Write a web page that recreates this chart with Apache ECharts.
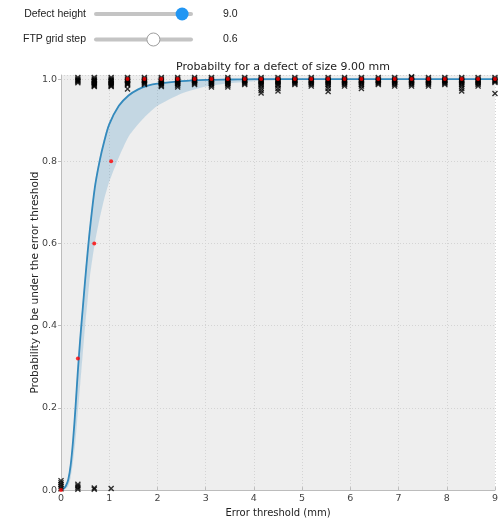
<!DOCTYPE html>
<html>
<head>
<meta charset="utf-8">
<script src="https://cdn.jsdelivr.net/npm/echarts@6/dist/echarts.min.js"></script>
<style>
  html, body { margin: 0; padding: 0; background: #fff; }
  #main { width: 501px; height: 523px; }
</style>
</head>
<body>
<div id="main"></div>
<script>
// slider widgets
const sliderLabels = ['Defect height', 'FTP grid step'];
const sliderValues = ['9.0', '0.6'];
const sliderPos = [0.89, 0.6];

// fitted curve
const curveX = [0, 0.05, 0.1, 0.15, 0.2, 0.25, 0.3, 0.35, 0.4, 0.45, 0.5, 0.55, 0.6, 0.7, 0.8, 0.9, 1.0, 1.2, 1.4, 1.6, 1.8, 2.0, 2.5, 3.0, 3.5, 4, 5, 6, 7, 8, 9];
const curveY = [0, 0.003, 0.01, 0.025, 0.06, 0.12, 0.2, 0.29, 0.37, 0.44, 0.51, 0.575, 0.635, 0.735, 0.80, 0.85, 0.89, 0.935, 0.96, 0.975, 0.984, 0.989, 0.995, 0.998, 0.999, 1, 1, 1, 1, 1, 1];
const lowerY = [0, 0.001, 0.003, 0.01, 0.03, 0.07, 0.12, 0.19, 0.26, 0.33, 0.4, 0.46, 0.52, 0.6, 0.66, 0.71, 0.75, 0.81, 0.86, 0.89, 0.915, 0.935, 0.965, 0.982, 0.99, 0.995, 0.999, 1, 1, 1, 1];
const upperY = [0, 0.004, 0.012, 0.03, 0.07, 0.13, 0.215, 0.305, 0.385, 0.455, 0.525, 0.59, 0.645, 0.745, 0.81, 0.858, 0.895, 0.938, 0.962, 0.976, 0.985, 0.99, 0.996, 0.998, 0.999, 1, 1, 1, 1, 1, 1];

// empirical probabilities (red dots)
const dotX = [0, 0.35, 0.69, 1.04, 1.38, 1.73, 2.08, 2.42, 2.77, 3.12, 3.46, 3.81, 4.15, 4.5, 4.85, 5.19, 5.54, 5.88, 6.23, 6.58, 6.92, 7.27, 7.62, 7.96, 8.31, 8.65, 9.0];
const dotY = [0, 0.32, 0.6, 0.8, 1, 1, 1, 1, 1, 1, 1, 1, 1, 1, 1, 1, 1, 1, 1, 1, 1, 1, 1, 1, 1, 1, 1];

// individual samples (black crosses), one list per column
const colX = [0.35, 0.69, 1.04, 1.38, 1.73, 2.08, 2.42, 2.77, 3.12, 3.46, 3.81, 4.15, 4.5, 4.85, 5.19, 5.54, 5.88, 6.23, 6.58, 6.92, 7.27, 7.62, 7.96, 8.31, 8.65, 9.0];
const colTop = [
  [1.004, 1, 0.998, 0.996, 0.994, 0.991],
  [1.004, 1, 0.998, 0.996, 0.994, 0.992, 0.99, 0.988, 0.986, 0.984, 0.982],
  [1.004, 1, 0.998, 0.996, 0.994, 0.992, 0.99, 0.988, 0.986, 0.984, 0.982],
  [1.004, 1, 0.998, 0.996, 0.994, 0.992, 0.99, 0.988, 0.986, 0.976],
  [1.004, 1, 0.998, 0.996, 0.994, 0.992, 0.99, 0.987],
  [1.004, 1, 0.998, 0.996, 0.994, 0.992, 0.99, 0.988, 0.985, 0.982],
  [1.004, 1, 0.998, 0.996, 0.994, 0.992, 0.99, 0.988, 0.985, 0.981],
  [1.004, 1, 0.998, 0.996, 0.994, 0.992, 0.99, 0.987],
  [1.004, 1, 0.998, 0.996, 0.994, 0.992, 0.99, 0.988, 0.985, 0.981],
  [1.004, 1, 0.998, 0.996, 0.994, 0.992, 0.99, 0.988, 0.985, 0.981],
  [1.004, 1, 0.998, 0.996, 0.994, 0.992, 0.99, 0.987],
  [1.004, 1, 0.998, 0.996, 0.994, 0.992, 0.99, 0.987, 0.984, 0.978, 0.972, 0.966],
  [1.004, 1, 0.998, 0.996, 0.994, 0.992, 0.99, 0.987, 0.984, 0.977, 0.971],
  [1.004, 1, 0.998, 0.996, 0.994, 0.992, 0.99, 0.987],
  [1.004, 1, 0.998, 0.996, 0.994, 0.992, 0.99, 0.987, 0.983],
  [1.004, 1, 0.998, 0.996, 0.994, 0.992, 0.99, 0.987, 0.983, 0.977, 0.97],
  [1.004, 1, 0.998, 0.996, 0.994, 0.992, 0.99, 0.987, 0.983],
  [1.004, 1, 0.998, 0.996, 0.994, 0.992, 0.99, 0.987, 0.983, 0.977],
  [1.004, 1, 0.998, 0.996, 0.994, 0.992, 0.99, 0.987],
  [1.004, 1, 0.998, 0.996, 0.994, 0.992, 0.99, 0.987, 0.983],
  [1.006, 1.004, 1, 0.998, 0.996, 0.994, 0.992, 0.99, 0.987, 0.983],
  [1.004, 1, 0.998, 0.996, 0.994, 0.992, 0.99, 0.987, 0.983],
  [1.004, 1, 0.998, 0.996, 0.994, 0.992, 0.99, 0.987],
  [1.004, 1, 0.998, 0.996, 0.994, 0.992, 0.99, 0.987, 0.983, 0.977, 0.971],
  [1.004, 1, 0.998, 0.996, 0.994, 0.992, 0.99, 0.987, 0.983],
  [1.004, 1, 0.998, 0.996, 0.994, 0.992, 0.965]
];
const lowX = [0, 0, 0, 0, 0, 0.35, 0.35, 0.35, 0.35, 0.69, 0.69, 1.04];
const lowY = [0.003, 0.008, 0.013, 0.018, 0.023, 0.002, 0.006, 0.01, 0.014, 0.002, 0.005, 0.004];

const xTicks = [0, 1, 2, 3, 4, 5, 6, 7, 8, 9];

const zip = (a, b) => a.map((v, i) => [v, b[i]]);

const crossData = [];
colX.forEach((x, i) => colTop[i].forEach(y => crossData.push([x, y])));
lowX.forEach((x, i) => crossData.push([x, lowY[i]]));

const crossPath = 'path://M0,1.6L1.6,0L5,3.4L8.4,0L10,1.6L6.6,5L10,8.4L8.4,10L5,6.6L1.6,10L0,8.4L3.4,5Z';

// confidence band as one polygon: upper edge forward, lower edge back
const bandData = curveX.map((x, i) => [x, lowerY[i], upperY[i]]);

// sliders drawn as graphics
const font = '10.5px "Liberation Sans", Arial, sans-serif';
const graphics = [];
sliderLabels.forEach((lab, i) => {
  const y = 14 + i * 25.5;
  const x0 = 94, x1 = 193;
  graphics.push({ type: 'text', x: 86, y: y, style: { text: lab, fill: '#222', font, align: 'right', verticalAlign: 'middle' } });
  graphics.push({ type: 'rect', shape: { x: x0, y: y - 2, width: x1 - x0, height: 4, r: 2 }, style: { fill: '#c4c4c4' } });
  const hx = x0 + sliderPos[i] * (x1 - x0);
  graphics.push({ type: 'circle', shape: { cx: hx, cy: y, r: 6.5 },
    style: i === 0 ? { fill: '#2196f3' } : { fill: '#fff', stroke: '#9e9e9e', lineWidth: 1 } });
  graphics.push({ type: 'text', x: 223, y: y, style: { text: sliderValues[i], fill: '#222', font, verticalAlign: 'middle' } });
});

const chart = echarts.init(document.getElementById('main'), null, { renderer: 'canvas' });
chart.setOption({
  animation: false,
  backgroundColor: '#fff',
  graphic: graphics,
  title: {
    text: 'Probabilty for a defect of size 9.00 mm',
    left: 278, top: 57, textAlign: 'center',
    textStyle: { fontFamily: 'DejaVu Sans', fontSize: 11, fontWeight: 'normal', color: '#222' }
  },
  grid: { left: 61, right: 4, top: 75, bottom: 23, show: true, backgroundColor: '#eeeeee', borderColor: '#bcbcbc', borderWidth: 0 },
  xAxis: {
    type: 'value', min: 0, max: 9, interval: 1,
    name: 'Error threshold (mm)', nameLocation: 'middle', nameGap: 16,
    nameTextStyle: { fontFamily: 'DejaVu Sans', fontSize: 10, color: '#222' },
    axisLine: { show: true, lineStyle: { color: '#bcbcbc', width: 1 } },
    axisTick: { show: true, length: 3, inside: true, lineStyle: { color: '#bcbcbc' } },
    axisLabel: { fontFamily: 'DejaVu Sans', fontSize: 9.5, color: '#444', margin: 3,
      formatter: v => xTicks.includes(v) ? String(v) : '' },
    splitLine: { show: true, lineStyle: { color: '#d4d4d4', type: [1, 2], width: 1 } }
  },
  yAxis: {
    type: 'value', min: 0, max: 1.01, interval: 0.2,
    name: 'Probability to be under the error threshold', nameLocation: 'middle', nameGap: 20,
    nameMoveOverlap: false,
    nameTextStyle: { fontFamily: 'DejaVu Sans', fontSize: 10.5, color: '#222' },
    axisLine: { show: true, lineStyle: { color: '#bcbcbc', width: 1 } },
    axisTick: { show: true, length: 3, lineStyle: { color: '#bcbcbc' } },
    axisLabel: { fontFamily: 'DejaVu Sans', fontSize: 9.5, color: '#444', margin: 4, showMaxLabel: false,
      formatter: v => v.toFixed(1) },
    splitLine: { show: true, lineStyle: { color: '#d4d4d4', type: [1, 2], width: 1 } }
  },
  series: [
    {
      type: 'custom', data: bandData, z: 1, silent: true,
      renderItem: (params, api) => {
        if (params.dataIndex !== 0) return null;
        const up = bandData.map(d => api.coord([d[0], d[2]]));
        const lo = bandData.map(d => api.coord([d[0], d[1]])).reverse();
        return {
          type: 'polygon',
          shape: { points: up.concat(lo), smooth: 0.2 },
          style: { fill: 'rgba(52,138,189,0.22)' }
        };
      }
    },
    {
      type: 'line', data: zip(curveX, curveY), symbol: 'none', smooth: 0.3,
      lineStyle: { color: '#348abd', width: 1.8 }, z: 2
    },
    {
      type: 'scatter', data: crossData, symbol: crossPath, symbolSize: 6,
      itemStyle: { color: '#000' }, z: 3
    },
    {
      type: 'scatter', data: zip(dotX, dotY), symbol: 'circle', symbolSize: 4,
      itemStyle: { color: '#ff0000' }, z: 4
    }
  ]
});
</script>
</body>
</html>
